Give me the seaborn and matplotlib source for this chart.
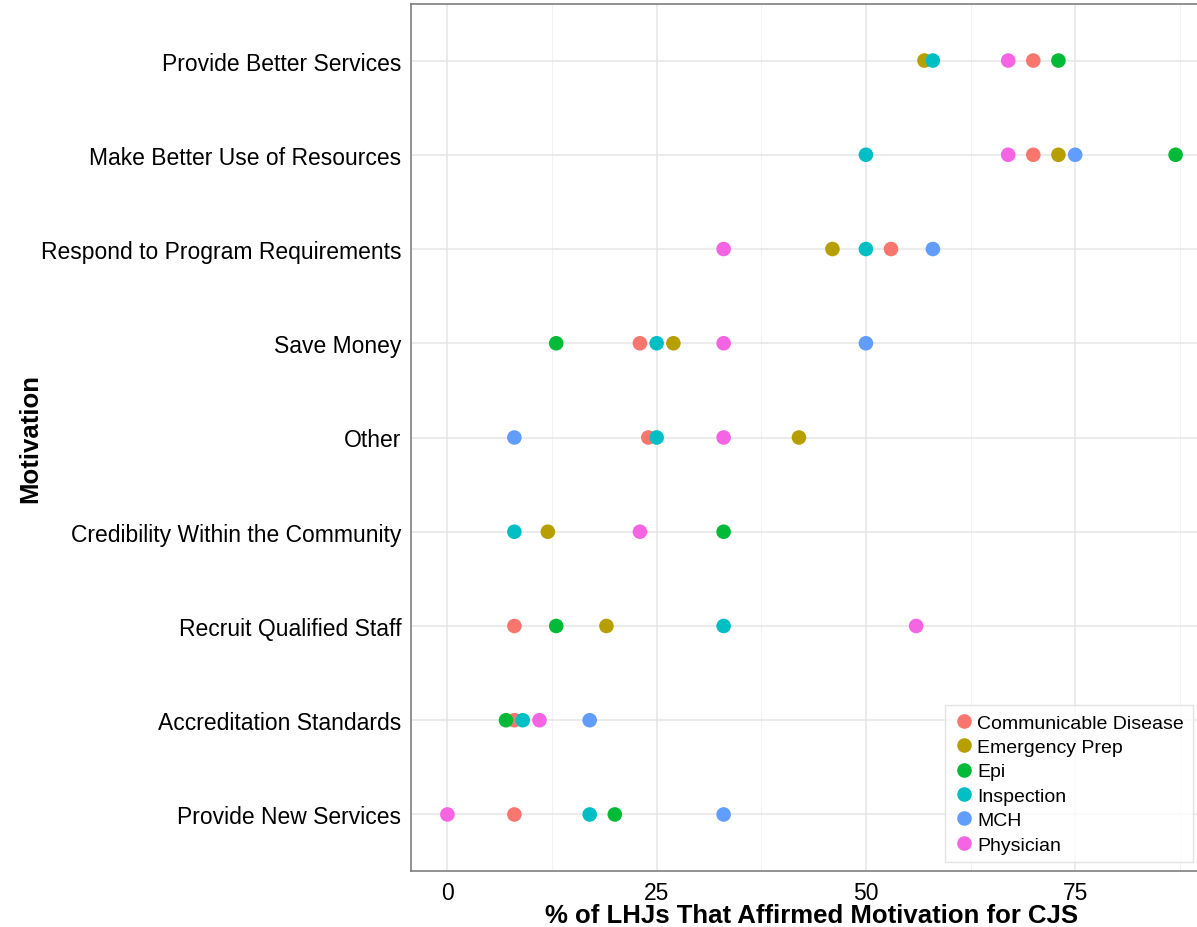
import numpy as np
import pandas as pd
import seaborn as sns
import matplotlib.pyplot as plt

motivations = [
    "Provide Better Services",
    "Make Better Use of Resources",
    "Respond to Program Requirements",
    "Save Money",
    "Other",
    "Credibility Within the Community",
    "Recruit Qualified Staff",
    "Accreditation Standards",
    "Provide New Services",
]
programs = ["Communicable Disease", "Emergency Prep", "Epi", "Inspection", "MCH", "Physician"]

nan = np.nan
communicable = [70, 70, 53, 23, 24, nan, 8, 8, 8]
emergency = [57, 73, 46, 27, 42, 12, 19, nan, nan]
epi = [73, 87, nan, 13, nan, 33, 13, 7, 20]
inspection = [58, 50, 50, 25, 25, 8, 33, 9, 17]
mch = [nan, 75, 58, 50, 8, nan, nan, 17, 33]
physician = [67, 67, 33, 33, 33, 23, 56, 11, 0]

colors = ["#F8766D", "#B79F00", "#00BA38", "#00BFC4", "#619CFF", "#F564E3"]

rows = []
for prog, vals in zip(programs, [communicable, emergency, epi, inspection, mch, physician]):
    for mot, v in zip(motivations, vals):
        rows.append({"Motivation": mot, "Program": prog, "pct": v})
df = pd.DataFrame(rows).dropna()

sns.set_style("white")
plt.rcParams["font.family"] = ["Liberation Sans", "DejaVu Sans"]

fig = plt.figure(figsize=(11.97, 9.28), dpi=100)
ax = fig.add_axes([411 / 1197, 1 - 872 / 928, (1212 - 411) / 1197, (872 - 5) / 928])

# grid first
for x in [12.5, 37.5, 62.5, 87.5]:
    ax.axvline(x, color="#f2f2f2", lw=0.8, zorder=0)
for x in [0, 25, 50, 75]:
    ax.axvline(x, color="#e5e5e5", lw=1.1, zorder=0)
for i in range(len(motivations)):
    ax.axhline(i, color="#e5e5e5", lw=1.1, zorder=0)

sns.stripplot(
    data=df,
    x="pct",
    y="Motivation",
    hue="Program",
    order=motivations,
    hue_order=programs,
    palette=colors,
    jitter=False,
    size=10.5,
    linewidth=0,
    ax=ax,
    zorder=3,
)

ax.set_xlim(-4.35, 91.35)
ax.set_ylim(len(motivations) - 1 + 0.6, -0.6)
ax.set_xticks([0, 25, 50, 75])
ax.set_xticklabels(["0", "25", "50", "75"])
ax.tick_params(axis="both", labelsize=16.5, colors="#333333", length=4, width=1,
               labelcolor="black")
ax.tick_params(axis="x", pad=3)
ax.tick_params(axis="y", pad=3)
for s in ax.spines.values():
    s.set_color("#7f7f7f")
    s.set_linewidth(1.2)

ax.set_xlabel("% of LHJs That Affirmed Motivation for CJS", fontsize=18.5,
              fontweight="bold", color="black")
ax.set_ylabel("Motivation", fontsize=18.5, fontweight="bold", color="black")
ax.xaxis.set_label_coords(0.5, -(916 - 872) / 867)
ax.xaxis.label.set_va("center")
ax.yaxis.set_label_coords(-(411 - 30) / 801, 0.5)
ax.yaxis.label.set_va("center")

leg = ax.legend(
    loc="upper left",
    bbox_to_anchor=(951 / 1197, 1 - 712 / 928),
    bbox_transform=fig.transFigure,
    frameon=True,
    fontsize=14,
    markerscale=1.0,
    handletextpad=0.2,
    labelspacing=0.35,
    borderpad=0.15,
    handlelength=1.0,
    borderaxespad=0,
    title=None,
)
leg.get_frame().set_edgecolor("#dddddd")
leg.get_frame().set_linewidth(1)
leg.get_frame().set_boxstyle("square")
for t in leg.get_texts():
    t.set_color("black")

plt.savefig("out.png", dpi=100)
